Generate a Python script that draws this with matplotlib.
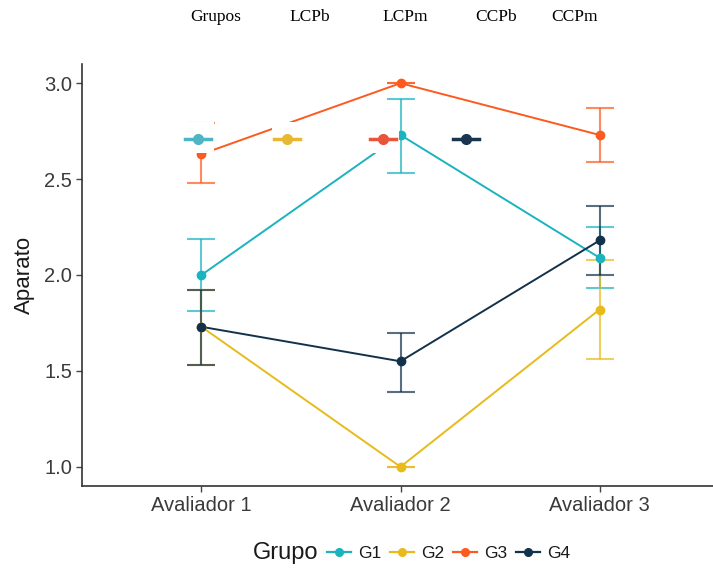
import numpy as np
import matplotlib
matplotlib.use("Agg")
import matplotlib.pyplot as plt
from matplotlib.lines import Line2D
from matplotlib.patches import Rectangle

plt.rcParams['font.family'] = ['Liberation Sans', 'DejaVu Sans']

avaliadores = ["Avaliador 1", "Avaliador 2", "Avaliador 3"]
grupos = ["G1", "G2", "G3", "G4"]
cores = ["#1AB3BF", "#E8BA1C", "#FC5A1E", "#12314B"]

# mean and error-bar limits for each group at each rater
media = [[2.00, 2.73, 2.09],
         [1.73, 1.00, 1.82],
         [2.63, 3.00, 2.73],
         [1.73, 1.55, 2.18]]
lim_inf = [[1.81, 2.53, 1.93],
           [1.53, 1.00, 1.56],
           [2.48, 3.00, 2.59],
           [1.53, 1.39, 2.00]]
lim_sup = [[2.19, 2.92, 2.25],
           [1.92, 1.00, 2.08],
           [2.79, 3.00, 2.87],
           [1.92, 1.70, 2.36]]

# stray header row and legend keys pasted over the figure
rotulos_topo = ["Grupos", "LCPb", "LCPm", "CCPb", "CCPm"]
rotulos_x = [216, 310, 405, 496, 575]
chaves_x = [198, 287, 383, 466]
chaves_cor = ["#4FB5C2", "#E8B830", "#E8553A", "#1A3550"]

W, H = 713, 574
fig = plt.figure(figsize=(W / 100, H / 100), dpi=100)
ax = fig.add_axes([82 / W, (H - 486) / H, (719 - 82) / W, (486 - 64) / H])

x = np.arange(1, 4)
for i, g in enumerate(grupos):
    m = np.array(media[i])
    lo = m - np.array(lim_inf[i])
    hi = np.array(lim_sup[i]) - m
    ax.errorbar(x, m, yerr=[lo, hi], fmt='none', ecolor=cores[i], elinewidth=1.5,
                capsize=10, capthick=1.5, alpha=0.7, zorder=2)
for i, g in enumerate(grupos):
    ax.plot(x, media[i], color=cores[i], lw=1.4, zorder=3)
for i, g in enumerate(grupos):
    ax.plot(x, media[i], 'o', color=cores[i], ms=6, zorder=4)

ax.set_xlim(0.4, 3.6)
ax.set_ylim(0.9, 3.1)
ax.set_xticks(x)
ax.set_xticklabels(avaliadores)
ax.set_yticks([1.0, 1.5, 2.0, 2.5, 3.0])
ax.set_yticklabels(["1.0", "1.5", "2.0", "2.5", "3.0"])
ax.tick_params(colors="#444444", labelsize=14.5, length=4, width=1, labelcolor="#3A3A3A", pad=3)
for s in ["top", "right"]:
    ax.spines[s].set_visible(False)
for s in ["left", "bottom"]:
    ax.spines[s].set_color("#333333")
    ax.spines[s].set_linewidth(1.2)
ax.set_ylabel("Aparato", fontsize=16, color="#1A1A1A", labelpad=7)

# overlay: header text and boxed keys
for t, px in zip(rotulos_topo, rotulos_x):
    fig.text(px / W, 1 - 17 / H, t, ha='center', va='center', fontsize=12.5,
             family=['Liberation Serif', 'DejaVu Serif'])
for px, c in zip(chaves_x, chaves_cor):
    fig.patches.append(Rectangle(((px - 15) / W, 1 - 153 / H), 31 / W, 31 / H,
                                 transform=fig.transFigure, facecolor='white',
                                 edgecolor='none', zorder=5))
    fig.lines.append(Line2D([(px - 13) / W, (px + 13) / W], [1 - 139 / H] * 2,
                            transform=fig.transFigure, color=c, lw=2.5, zorder=6))
    fig.lines.append(Line2D([px / W], [1 - 139 / H], transform=fig.transFigure,
                            marker='o', ms=7, color=c, zorder=7))

# bottom legend
handles = [Line2D([], [], color=c, lw=1.6, marker='o', ms=5.5) for c in cores]
fig.text(253 / W, 1 - 553 / H, "Grupo", fontsize=17, va='center', color="#1A1A1A")
fig.legend(handles, grupos, loc='center left', bbox_to_anchor=(318 / W, 1 - 553 / H),
           ncol=4, frameon=False, fontsize=12.5, handlelength=1.4, handletextpad=0.4,
           columnspacing=0.5, borderpad=0, labelcolor="#1A1A1A")

fig.savefig("out.png", dpi=100)
